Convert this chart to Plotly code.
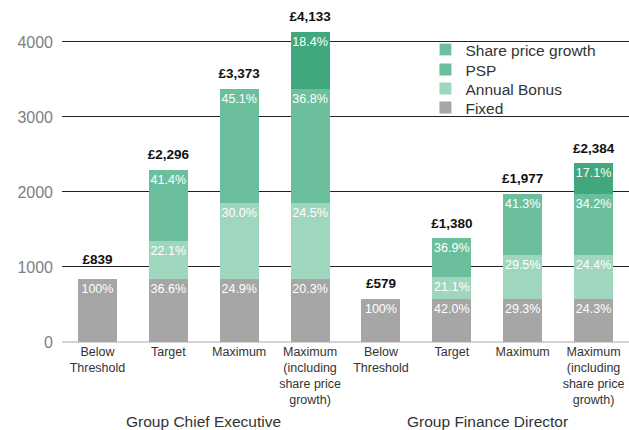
import plotly.graph_objects as go

# ---- data ----
tick_labels = ["Below<br>Threshold", "Target", "Maximum",
               "Maximum<br>(including<br>share price<br>growth)",
               "Below<br>Threshold", "Target", "Maximum",
               "Maximum<br>(including<br>share price<br>growth)"]
group_names = ["Group Chief Executive", "Group Finance Director"]

fixed = [839, 839, 839, 839, 579, 579, 579, 579]
annual_bonus = [0, 507, 1012, 1013, 0, 291, 583, 582]
psp = [0, 950, 1522, 1521, 0, 510, 815, 815]
share_price = [0, 0, 0, 760, 0, 0, 0, 408]
totals = [839, 2296, 3373, 4133, 579, 1380, 1977, 2384]

fixed_pct = ["100%", "36.6%", "24.9%", "20.3%", "100%", "42.0%", "29.3%", "24.3%"]
bonus_pct = ["", "22.1%", "30.0%", "24.5%", "", "21.1%", "29.5%", "24.4%"]
psp_pct = ["", "41.4%", "45.1%", "36.8%", "", "36.9%", "41.3%", "34.2%"]
share_pct = ["", "", "", "18.4%", "", "", "", "17.1%"]
total_labels = ["£839", "£2,296", "£3,373", "£4,133", "£579", "£1,380", "£1,977", "£2,384"]

# ---- styles ----
FONT = "Liberation Sans"
c_fixed = "#a6a6a6"
c_bonus = "#9fd6be"
c_psp = "#6bbf9d"
c_share = "#40a87c"
# invisible marker sizes used only to set the gap between bar top and total label
label_gap = [17, 10, 10, 11, 10, 10, 10, 10]

x = list(range(len(tick_labels)))

fig = go.Figure()
series = [
    ("Fixed", fixed, fixed_pct, c_fixed, "legend4"),
    ("Annual Bonus", annual_bonus, bonus_pct, c_bonus, "legend3"),
    ("PSP", psp, psp_pct, c_psp, "legend2"),
    ("Share price growth", share_price, share_pct, c_share, None),
]
for name, vals, txt, col, leg in series:
    fig.add_trace(go.Bar(
        x=x, y=vals, name=name, text=txt,
        marker=dict(color=col, line=dict(width=0)),
        width=0.55, showlegend=leg is not None,
        legend=leg if leg else "legend",
        textposition="inside", insidetextanchor="end",
        textangle=0, constraintext="none",
        textfont=dict(family=FONT, size=12.5, color="white"),
        hoverinfo="skip",
    ))

# legend entry as drawn in the reference (swatch shares the PSP tint)
fig.add_trace(go.Bar(
    x=[None], y=[None], name="Share price growth", legend="legend",
    marker=dict(color=c_psp), showlegend=True, hoverinfo="skip",
))

fig.add_trace(go.Scatter(
    x=x, y=totals, mode="markers+text", text=total_labels,
    textposition="top center",
    marker=dict(size=label_gap, color="rgba(0,0,0,0)", opacity=0,
                line=dict(width=0, color="rgba(0,0,0,0)")),
    textfont=dict(family=FONT, size=13.5, color="#111111"),
    texttemplate="<b>%{text}</b>",
    showlegend=False, hoverinfo="skip",
))

for i, g in enumerate(group_names):
    fig.add_annotation(
        x=1.5 + 4 * i, xref="x", y=-0.235, yref="paper",
        text=g, showarrow=False, yanchor="middle",
        font=dict(family=FONT, size=15.5, color="#333333"),
    )

leg_common = dict(
    x=0.641, xanchor="left", yanchor="middle",
    bgcolor="rgba(0,0,0,0)", itemwidth=30,
    font=dict(family=FONT, size=15.5, color="#333333"),
)
fig.update_layout(
    width=629, height=430,
    margin=dict(l=62, r=0, t=5, b=88, autoexpand=False),
    paper_bgcolor="white", plot_bgcolor="white",
    barmode="stack", bargap=0.45,
    uniformtext=dict(minsize=12.5, mode="show"),
    font=dict(family=FONT, color="#333333"),
    legend=dict(y=0.8665, **leg_common),
    legend2=dict(y=0.807, **leg_common),
    legend3=dict(y=0.7507, **leg_common),
    legend4=dict(y=0.6944, **leg_common),
    showlegend=True,
)
fig.update_xaxes(
    range=[-0.5, 7.5], tickmode="array", tickvals=x, ticktext=tick_labels,
    showgrid=False, zeroline=False, showline=False, ticks="",
    automargin=False,
    tickfont=dict(family=FONT, size=12.5, color="#333333"),
)
fig.update_yaxes(
    range=[0, 4493], tickvals=[0, 1000, 2000, 3000, 4000],
    showgrid=True, gridcolor="#222222", gridwidth=1,
    zeroline=True, zerolinecolor="#d4d4d4", zerolinewidth=2,
    showline=False, ticks="", ticklen=0, automargin=False,
    ticklabelstandoff=8,
    tickfont=dict(family=FONT, size=16, color="#808080"),
)

fig.write_html("out.html", config={"displayModeBar": False},
               post_script="document.body.style.margin='0';")
